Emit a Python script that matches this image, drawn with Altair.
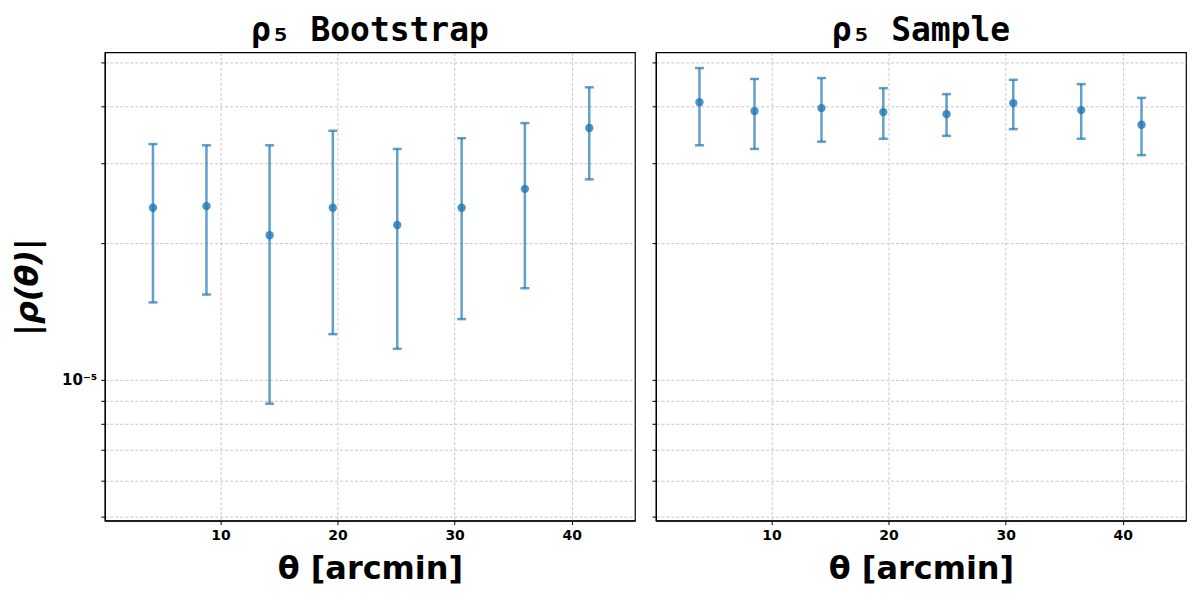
import altair as alt
import pandas as pd

# Bootstrap panel
theta_boot = [4.24, 8.81, 14.2, 19.6, 25.1, 30.6, 36.0, 41.5]
rho_boot = [2.39e-5, 2.41e-5, 2.08e-5, 2.39e-5, 2.19e-5, 2.39e-5, 2.63e-5, 3.58e-5]
hi_boot = [3.30e-5, 3.28e-5, 3.28e-5, 3.53e-5, 3.22e-5, 3.40e-5, 3.67e-5, 4.40e-5]
lo_boot = [1.48e-5, 1.54e-5, 8.86e-6, 1.26e-5, 1.17e-5, 1.36e-5, 1.59e-5, 2.76e-5]

# Sample panel
theta_samp = [3.85, 8.55, 14.27, 19.55, 24.95, 30.65, 36.45, 41.6]
rho_samp = [4.08e-5, 3.90e-5, 3.96e-5, 3.88e-5, 3.84e-5, 4.06e-5, 3.92e-5, 3.64e-5]
hi_samp = [4.85e-5, 4.59e-5, 4.61e-5, 4.38e-5, 4.25e-5, 4.57e-5, 4.47e-5, 4.17e-5]
lo_samp = [3.28e-5, 3.22e-5, 3.34e-5, 3.39e-5, 3.44e-5, 3.56e-5, 3.39e-5, 3.12e-5]

x_ticks = [10, 20, 30, 40]
y_ticks = [5e-6, 6e-6, 7e-6, 8e-6, 9e-6, 1e-5, 2e-5, 3e-5, 4e-5, 5e-5]

BLUE = "#1f77b4"
W, H = 531, 469


def panel(theta, rho, lo, hi, title, show_y):
    df = pd.DataFrame({"theta": theta, "rho": rho, "lo": lo, "hi": hi})
    xs = alt.Scale(domain=[0.13, 45.4], nice=False, zero=False)
    ys = alt.Scale(type="log", domain=[4.9e-6, 5.25e-5], nice=False)
    xaxis = alt.Axis(values=x_ticks, title="θ [arcmin]", format="d")
    if show_y:
        yaxis = alt.Axis(values=y_ticks, title="|ρ(θ)|", labelFontSize=15,
                         labelExpr="abs(datum.value - 0.00001) < 1e-9 ? '10⁻⁵' : ''")
    else:
        yaxis = alt.Axis(values=y_ticks, title=None, labels=False)
    x = alt.X("theta:Q", scale=xs, axis=xaxis)
    base = alt.Chart(df)
    bars = base.mark_rule(color=BLUE, opacity=0.7, strokeWidth=2.5).encode(
        x=x, y=alt.Y("lo:Q", scale=ys, axis=yaxis), y2="hi:Q")
    cap_lo = base.mark_tick(color=BLUE, opacity=0.7, size=9, thickness=2.5,
                            orient="horizontal").encode(
        x=x, y=alt.Y("lo:Q", scale=ys, axis=yaxis))
    cap_hi = base.mark_tick(color=BLUE, opacity=0.7, size=9, thickness=2.5,
                            orient="horizontal").encode(
        x=x, y=alt.Y("hi:Q", scale=ys, axis=yaxis))
    pts = base.mark_point(filled=True, color=BLUE, opacity=0.8, size=70).encode(
        x=x, y=alt.Y("rho:Q", scale=ys, axis=yaxis))
    return alt.layer(bars, cap_lo, cap_hi, pts).properties(
        width=W, height=H,
        title=alt.TitleParams(text=title, font="DejaVu Sans Mono", fontSize=33,
                              fontWeight="bold", color="black", offset=4),
    )


left = panel(theta_boot, rho_boot, lo_boot, hi_boot, "ρ₅ Bootstrap", True)
right = panel(theta_samp, rho_samp, lo_samp, hi_samp, "ρ₅ Sample", False)

chart = alt.hconcat(left, right, spacing=14).properties(
    padding={"left": 3, "top": 6, "right": 5, "bottom": 5}
).configure_view(
    stroke="black", strokeWidth=1.2
).configure_axis(
    domainColor="black", domainWidth=1.2,
    tickColor="black", tickSize=4, tickWidth=1,
    grid=True, gridColor="#b0b0b0", gridDash=[3, 2], gridWidth=0.7,
    labelFont="DejaVu Sans", labelFontSize=14, labelFontWeight="bold", labelColor="black",
    titleFont="DejaVu Sans", titleFontSize=32, titleFontWeight="bold", titleColor="black",
    labelPadding=4,
).configure_axisY(
    titleFontStyle="italic", titlePadding=17,
).configure_axisX(
    titlePadding=11,
)

chart.save("out.html", embed_options={"renderer": "svg", "actions": False})
